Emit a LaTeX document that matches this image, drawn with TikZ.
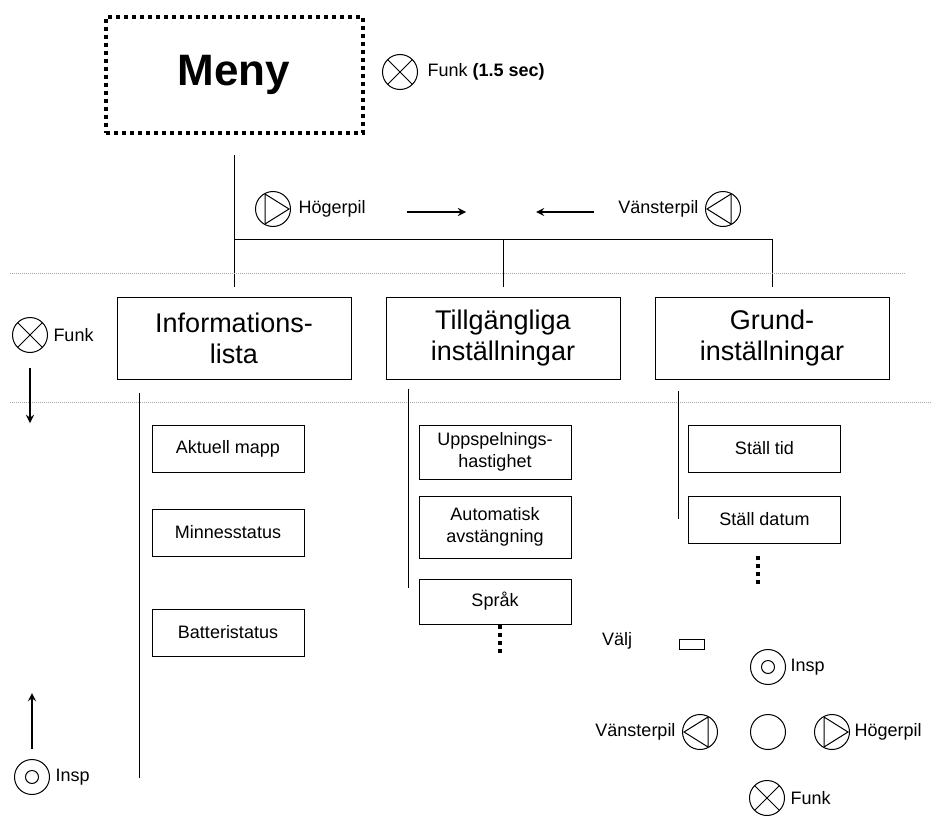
\documentclass[tikz,border=0pt]{standalone}
\usepackage{fontspec}
\setmainfont{Liberation Sans}
\usetikzlibrary{arrows, positioning}

\begin{document}
\begin{tikzpicture}[
            x = 1pt, y = -1pt, % pixel grid, y pointing down
            > = stealth, % arrow head style
            node distance = 3pt, % distance between nodes
            line width = 1pt % line style
        ]
        \useasboundingbox (0,0) rectangle (931,816);

        \tikzstyle{menybox}=[
            draw,
            line width = 4pt,
            dash pattern = on 4pt off 4pt,
            minimum width = 257pt,
            minimum height = 116pt,
            font = \fontsize{44}{50}\selectfont\bfseries
        ]
        \tikzstyle{topbox}=[draw, minimum width = 234pt, minimum height = 82pt, align = center, font = \fontsize{27}{31}\selectfont]
        \tikzstyle{subbox}=[draw, minimum width = 152pt, minimum height = 47pt, align = center, font = \fontsize{18}{22}\selectfont]
        \tikzstyle{lbl}=[inner sep = 1pt, font = \fontsize{18}{22}\selectfont]
        \tikzstyle{btn}=[circle, draw, minimum size = 35pt, inner sep = 0pt]
        \tikzstyle{btnfunk}=[btn, path picture = {
            \draw (path picture bounding box.north west) -- (path picture bounding box.south east)
                  (path picture bounding box.north east) -- (path picture bounding box.south west);}]
        \tikzstyle{btninsp}=[btn, path picture = {\draw (path picture bounding box.center) circle (6.5pt);}]
        \tikzstyle{btnright}=[btn, path picture = {
            \draw ([shift={(-8pt,15pt)}]path picture bounding box.center) -- ([shift={(16pt,0pt)}]path picture bounding box.center)
                  -- ([shift={(-8pt,-15pt)}]path picture bounding box.center) -- cycle;}]
        \tikzstyle{btnleft}=[btn, path picture = {
            \draw ([shift={(8pt,15pt)}]path picture bounding box.center) -- ([shift={(-16pt,0pt)}]path picture bounding box.center)
                  -- ([shift={(8pt,-15pt)}]path picture bounding box.center) -- cycle;}]
        \tikzstyle{sep}=[gray!70, line width = 0.8pt, dash pattern = on 1pt off 1pt]
        \tikzstyle{more}=[line width = 4pt, dash pattern = on 4pt off 4pt]
        \tikzstyle{move}=[->, line width = 2.6pt]

        % menu and its key
        \node[menybox] (meny) at (234,75) {Meny};
        \node[btnfunk] (fmeny) at (400,72) {};
        \node[lbl, right = 8pt of fmeny] (fmenytxt) {Funk \textbf{(1.5 sec)}};

        % moving between the three lists
        \node[btnright] (hright) at (273,209) {};
        \node[lbl, right = 6pt of hright] (hrighttxt) {Högerpil};
        \node[btnleft] (hleft) at (723,209) {};
        \node[lbl, left = 5pt of hleft] (hlefttxt) {Vänsterpil};
        \coordinate (ra) at (407,212);
        \coordinate (rb) at (466,212);
        \coordinate (la) at (594,212);
        \coordinate (lb) at (536,212);
        \draw[move] (ra) -- (rb);
        \draw[move] (la) -- (lb);

        \node[topbox] (info) at (234,338) {Informations-\\lista};
        \node[topbox, right = 34pt of info] (till) {Tillgängliga\\inställningar};
        \node[topbox, right = 34pt of till] (grund) {Grund-\\inställningar};

        \coordinate (hub) at (234,239);
        \draw[shorten <= 20pt] (meny.south) -- (hub);
        \draw (hub) -- (hub -| grund.north);
        \draw[shorten >= 10pt] (hub) -- (info.north);
        \draw[shorten >= 10pt] (hub -| till.north) -- (till.north);
        \draw[shorten >= 10pt] (hub -| grund.north) -- (grund.north);

        \draw[sep] (10,273) -- (905,273);
        \draw[sep] (10,402) -- (931,402);

        % sub items
        \node[subbox] (akt) at (228,448.5) {Aktuell mapp};
        \node[subbox, below = 36pt of akt] (minne) {Minnesstatus};
        \node[subbox, below = 52pt of minne] (batt) {Batteristatus};
        \draw ([shift={(23,13)}]info.south west) -- ++(0,385);

        \node[subbox, minimum height = 54pt] (uppsp) at (495,452) {Uppspelnings-\\hastighet};
        \node[subbox, minimum height = 62pt, below = 16pt of uppsp] (auto) {Automatisk\\avstängning};
        \node[subbox, minimum height = 45pt, below = 20pt of auto] (sprak) {Språk};
        \draw ([shift={(23,9)}]till.south west) -- ++(0,199);
        \draw[more] ([xshift = 5pt]sprak.south) -- ++(0,31);

        \node[subbox] (stid) at (764.5,448.5) {Ställ tid};
        \node[subbox, below = 23pt of stid] (sdat) {Ställ datum};
        \draw ([shift={(24,11)}]grund.south west) -- ++(0,128);
        \draw[more] ([shift={(-6.5,12)}]sdat.south) -- ++(0,31);

        % scrolling inside a list
        \node[btnfunk] (fleft) at (30,335) {};
        \node[lbl, right = 4pt of fleft] (flefttxt) {Funk};
        \coordinate (down) at (30,423);
        \draw[move, shorten <= 15pt] (fleft.south) -- (down);

        \node[btninsp] (ileft) at (32,777) {};
        \node[lbl, right = 4pt of ileft] (ilefttxt) {Insp};
        \coordinate (up) at (32,693);
        \draw[move, shorten <= 10pt] (ileft.north) -- (up);

        % key legend
        \node[lbl] (valj) at (617,641) {Välj};
        \node[draw, minimum width = 25pt, minimum height = 10pt, inner sep = 0pt] (valjbox) at (691.5,644) {};
        \node[btninsp] (kinsp) at (768,667) {};
        \node[lbl, right = 3pt of kinsp] (kinsptxt) {Insp};
        \node[btn] (kok) at (768,732) {};
        \node[btnleft] (kleft) at (700,732) {};
        \node[lbl, left = 5pt of kleft] (klefttxt) {Vänsterpil};
        \node[btnright] (kright) at (832,732) {};
        \node[lbl, right = 3pt of kright] (krighttxt) {Högerpil};
        \node[btnfunk] (kfunk) at (767,798) {};
        \node[lbl, right = 4pt of kfunk] (kfunktxt) {Funk};
    \end{tikzpicture}
\end{document}
